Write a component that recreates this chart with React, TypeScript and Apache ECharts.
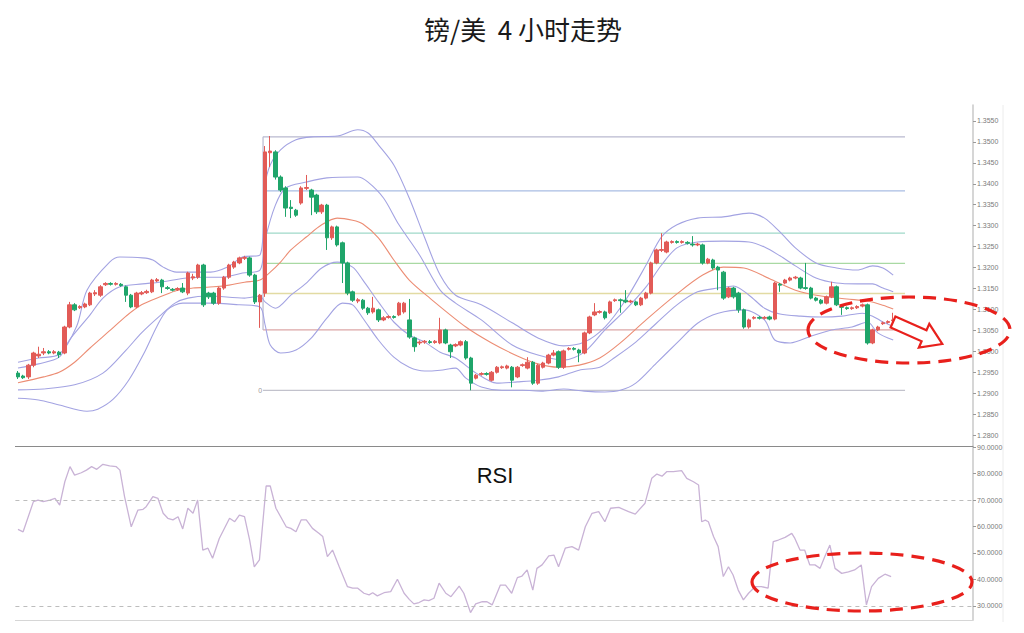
import React, { useEffect, useRef } from "react";
import * as echarts from "echarts";

// ---------- data ----------
const titleText = "镑/美  4 小时走势";
const rsiTitle = "RSI";

// candles: [open, close, low, high]
const candles: number[][] = [
  [1.2948, 1.2939, 1.2934, 1.2953], [1.2941, 1.2937, 1.2934, 1.2944], [1.2939, 1.2967, 1.2934, 1.2970], [1.2967, 1.2996, 1.2962, 1.2999],
  [1.2989, 1.2993, 1.2984, 1.3011], [1.2996, 1.2999, 1.2991, 1.3008], [1.2999, 1.2996, 1.2993, 1.3003], [1.2996, 1.2999, 1.2993, 1.3003],
  [1.2998, 1.2992, 1.2984, 1.3001], [1.2996, 1.3058, 1.2993, 1.3061], [1.3058, 1.3111, 1.3055, 1.3118], [1.3111, 1.3099, 1.3096, 1.3115],
  [1.3104, 1.3107, 1.3101, 1.3110], [1.3106, 1.3113, 1.3103, 1.3116], [1.3111, 1.3139, 1.3108, 1.3142], [1.3137, 1.3140, 1.3132, 1.3146],
  [1.3134, 1.3154, 1.3130, 1.3158], [1.3159, 1.3162, 1.3156, 1.3165], [1.3162, 1.3160, 1.3157, 1.3165], [1.3160, 1.3162, 1.3157, 1.3165],
  [1.3160, 1.3157, 1.3154, 1.3163], [1.3154, 1.3134, 1.3118, 1.3157], [1.3134, 1.3106, 1.3103, 1.3137], [1.3106, 1.3139, 1.3103, 1.3142],
  [1.3137, 1.3140, 1.3134, 1.3144], [1.3140, 1.3143, 1.3137, 1.3147], [1.3142, 1.3170, 1.3139, 1.3173], [1.3168, 1.3171, 1.3165, 1.3175],
  [1.3170, 1.3154, 1.3139, 1.3173], [1.3152, 1.3150, 1.3147, 1.3156], [1.3148, 1.3146, 1.3143, 1.3151], [1.3147, 1.3150, 1.3144, 1.3153],
  [1.3151, 1.3142, 1.3139, 1.3163], [1.3139, 1.3187, 1.3134, 1.3190], [1.3175, 1.3178, 1.3170, 1.3185], [1.3177, 1.3206, 1.3173, 1.3209],
  [1.3206, 1.3111, 1.3106, 1.3209], [1.3139, 1.3130, 1.3125, 1.3142], [1.3139, 1.3115, 1.3111, 1.3142], [1.3115, 1.3151, 1.3111, 1.3154],
  [1.3151, 1.3177, 1.3147, 1.3180], [1.3177, 1.3206, 1.3173, 1.3209], [1.3201, 1.3213, 1.3197, 1.3216], [1.3211, 1.3223, 1.3208, 1.3226],
  [1.3222, 1.3224, 1.3218, 1.3228], [1.3223, 1.3182, 1.3178, 1.3226], [1.3182, 1.3118, 1.3113, 1.3185], [1.3118, 1.3134, 1.3056, 1.3137],
  [1.3139, 1.3476, 1.3130, 1.3490], [1.3474, 1.3478, 1.3440, 1.3514], [1.3476, 1.3416, 1.3410, 1.3480], [1.3416, 1.3385, 1.3380, 1.3420],
  [1.3390, 1.3342, 1.3321, 1.3394], [1.3344, 1.3341, 1.3318, 1.3361], [1.3337, 1.3325, 1.3321, 1.3340], [1.3354, 1.3390, 1.3350, 1.3394],
  [1.3389, 1.3391, 1.3385, 1.3421], [1.3385, 1.3368, 1.3325, 1.3388], [1.3373, 1.3333, 1.3328, 1.3376], [1.3333, 1.3349, 1.3328, 1.3352],
  [1.3349, 1.3271, 1.3242, 1.3352], [1.3271, 1.3297, 1.3266, 1.3300], [1.3297, 1.3254, 1.3250, 1.3300], [1.3259, 1.3211, 1.3163, 1.3262],
  [1.3211, 1.3139, 1.3134, 1.3214], [1.3142, 1.3122, 1.3118, 1.3145], [1.3120, 1.3123, 1.3115, 1.3127], [1.3122, 1.3103, 1.3099, 1.3125],
  [1.3103, 1.3092, 1.3087, 1.3106], [1.3094, 1.3103, 1.3090, 1.3130], [1.3099, 1.3075, 1.3070, 1.3102], [1.3075, 1.3080, 1.3072, 1.3084],
  [1.3081, 1.3083, 1.3078, 1.3086], [1.3083, 1.3081, 1.3078, 1.3086], [1.3087, 1.3115, 1.3084, 1.3118], [1.3094, 1.3115, 1.3090, 1.3118],
  [1.3075, 1.3034, 1.3030, 1.3125], [1.3032, 1.3011, 1.2999, 1.3035], [1.3020, 1.3022, 1.3015, 1.3026], [1.3022, 1.3024, 1.3018, 1.3027],
  [1.3023, 1.3021, 1.3018, 1.3027], [1.3021, 1.3024, 1.3018, 1.3027], [1.3020, 1.3051, 1.3017, 1.3080], [1.3051, 1.3020, 1.3017, 1.3054],
  [1.3015, 1.2999, 1.2984, 1.3018], [1.3013, 1.3016, 1.3010, 1.3019], [1.3015, 1.3023, 1.3012, 1.3026], [1.3023, 1.2984, 1.2980, 1.3027],
  [1.2984, 1.2924, 1.2907, 1.2987], [1.2936, 1.2943, 1.2933, 1.2946], [1.2945, 1.2947, 1.2942, 1.2950], [1.2947, 1.2945, 1.2942, 1.2950],
  [1.2931, 1.2950, 1.2928, 1.2953], [1.2950, 1.2962, 1.2947, 1.2965], [1.2961, 1.2963, 1.2958, 1.2966], [1.2960, 1.2965, 1.2957, 1.2968],
  [1.2962, 1.2931, 1.2914, 1.2965], [1.2939, 1.2962, 1.2936, 1.2965], [1.2966, 1.2968, 1.2963, 1.2971], [1.2960, 1.2974, 1.2957, 1.2986],
  [1.2974, 1.2924, 1.2920, 1.2977], [1.2924, 1.2967, 1.2920, 1.2970], [1.2962, 1.2972, 1.2959, 1.2975], [1.2972, 1.2991, 1.2969, 1.2994],
  [1.2991, 1.2996, 1.2988, 1.3003], [1.2999, 1.2962, 1.2958, 1.3002], [1.2962, 1.3001, 1.2958, 1.3004], [1.3005, 1.3007, 1.3002, 1.3010],
  [1.3007, 1.3005, 1.3002, 1.3010], [1.3003, 1.2996, 1.2974, 1.3006], [1.2996, 1.3044, 1.2993, 1.3047], [1.3044, 1.3082, 1.3041, 1.3085],
  [1.3087, 1.3094, 1.3084, 1.3115], [1.3093, 1.3095, 1.3090, 1.3098], [1.3094, 1.3080, 1.3076, 1.3097], [1.3092, 1.3118, 1.3089, 1.3121],
  [1.3121, 1.3123, 1.3118, 1.3126], [1.3123, 1.3121, 1.3092, 1.3126], [1.3122, 1.3118, 1.3115, 1.3146], [1.3118, 1.3120, 1.3115, 1.3123],
  [1.3118, 1.3111, 1.3108, 1.3121], [1.3111, 1.3127, 1.3108, 1.3130], [1.3127, 1.3139, 1.3124, 1.3142], [1.3139, 1.3211, 1.3136, 1.3214],
  [1.3211, 1.3242, 1.3208, 1.3245], [1.3241, 1.3243, 1.3237, 1.3282], [1.3237, 1.3261, 1.3234, 1.3264], [1.3260, 1.3262, 1.3257, 1.3265],
  [1.3262, 1.3260, 1.3257, 1.3265], [1.3260, 1.3262, 1.3257, 1.3265], [1.3260, 1.3258, 1.3255, 1.3263], [1.3256, 1.3254, 1.3250, 1.3275],
  [1.3254, 1.3256, 1.3251, 1.3259], [1.3254, 1.3211, 1.3207, 1.3257], [1.3211, 1.3220, 1.3208, 1.3223], [1.3218, 1.3199, 1.3195, 1.3221],
  [1.3201, 1.3194, 1.3146, 1.3204], [1.3189, 1.3127, 1.3123, 1.3192], [1.3130, 1.3151, 1.3127, 1.3154], [1.3151, 1.3130, 1.3126, 1.3154],
  [1.3139, 1.3099, 1.3092, 1.3142], [1.3099, 1.3058, 1.3054, 1.3102], [1.3058, 1.3075, 1.3054, 1.3078], [1.3079, 1.3081, 1.3076, 1.3084],
  [1.3081, 1.3079, 1.3076, 1.3084], [1.3079, 1.3081, 1.3076, 1.3084], [1.3082, 1.3077, 1.3074, 1.3085], [1.3077, 1.3163, 1.3074, 1.3166],
  [1.3160, 1.3158, 1.3142, 1.3163], [1.3163, 1.3170, 1.3160, 1.3173], [1.3170, 1.3175, 1.3167, 1.3178], [1.3175, 1.3177, 1.3172, 1.3180],
  [1.3175, 1.3151, 1.3148, 1.3178], [1.3152, 1.3150, 1.3147, 1.3211], [1.3151, 1.3127, 1.3124, 1.3154], [1.3127, 1.3122, 1.3119, 1.3130],
  [1.3122, 1.3115, 1.3112, 1.3125], [1.3115, 1.3130, 1.3112, 1.3133], [1.3130, 1.3154, 1.3127, 1.3166], [1.3154, 1.3111, 1.3108, 1.3157],
  [1.3107, 1.3105, 1.3087, 1.3110], [1.3104, 1.3102, 1.3099, 1.3107], [1.3102, 1.3104, 1.3099, 1.3107], [1.3104, 1.3107, 1.3101, 1.3110],
  [1.3108, 1.3111, 1.3105, 1.3114], [1.3111, 1.3020, 1.3016, 1.3114], [1.3020, 1.3051, 1.3017, 1.3054], [1.3051, 1.3058, 1.3048, 1.3061],
  [1.3066, 1.3068, 1.3063, 1.3071], [1.3069, 1.3071, 1.3066, 1.3074], [1.3073, 1.3075, 1.3070, 1.3092],
];

// Bollinger bands, read as [candle index, price]
const bbUpperOuter: number[][] = [
  [0, 1.2974], [4, 1.2984], [8, 1.2993], [11.4, 1.3060], [13.4, 1.3146], [17.8, 1.3213], [19.8, 1.3225], [24.2, 1.3223],
  [26.2, 1.3218], [28.2, 1.3201], [30.8, 1.3189], [34.7, 1.3189], [37.4, 1.3189], [40.7, 1.3201], [43.6, 1.3225], [47, 1.3230],
  [48, 1.3397], [49, 1.3445], [51, 1.3481], [54, 1.3505], [57, 1.3512], [62, 1.3514], [66, 1.3529], [68, 1.3521], [70, 1.3493],
  [73, 1.3445], [76, 1.3366], [79, 1.3271], [82, 1.3182], [85, 1.3134], [90, 1.3111], [96, 1.3068], [101, 1.3032], [106, 1.3013],
  [110, 1.3022], [114, 1.3058], [118, 1.3122], [122, 1.3206], [125, 1.3273], [128, 1.3302], [132, 1.3318], [137, 1.3321],
  [142, 1.3330], [145, 1.3318], [148, 1.3285], [151, 1.3247], [155, 1.3211], [159, 1.3199], [163, 1.3194], [166, 1.3204],
  [168, 1.3199], [170, 1.3182],
];
const bbUpperInner: number[][] = [
  [0, 1.2960], [4, 1.2970], [8, 1.2986], [10, 1.3027], [14, 1.3087], [16.5, 1.3127], [19.8, 1.3154], [24.2, 1.3161],
  [27.5, 1.3165], [32.8, 1.3175], [35.9, 1.3177], [39.7, 1.3177], [43.6, 1.3187], [47, 1.3194], [48, 1.3266], [50, 1.3349],
  [52, 1.3390], [56, 1.3404], [60, 1.3414], [66, 1.3416], [68, 1.3404], [71, 1.3366], [74, 1.3302], [78, 1.3230], [82, 1.3146],
  [85, 1.3115], [90, 1.3075], [96, 1.3015], [101, 1.2991], [106, 1.2979], [110, 1.2998], [114, 1.3051], [118, 1.3099],
  [122, 1.3154], [125, 1.3206], [128, 1.3247], [132, 1.3261], [137, 1.3263], [142, 1.3261], [145, 1.3249], [148, 1.3228],
  [151, 1.3204], [155, 1.3175], [159, 1.3163], [163, 1.3161], [166, 1.3161], [168, 1.3151], [170, 1.3142],
];
const bbMiddle: number[][] = [
  [0, 1.2925], [5, 1.2939], [8, 1.2950], [11, 1.2974], [14, 1.3008], [18, 1.3051], [21, 1.3084], [24, 1.3111], [28, 1.3132],
  [31, 1.3146], [34, 1.3151], [38, 1.3154], [41, 1.3158], [44, 1.3165], [47, 1.3170], [49, 1.3189], [51, 1.3213], [53, 1.3242],
  [56, 1.3273], [59, 1.3302], [62, 1.3318], [65, 1.3313], [67, 1.3304], [70, 1.3271], [73, 1.3218], [76, 1.3170], [80, 1.3127],
  [87, 1.3058], [92, 1.3020], [97, 1.2989], [101, 1.2970], [105, 1.2962], [109, 1.2967], [113, 1.2984], [117, 1.3020],
  [122, 1.3075], [128, 1.3137], [133, 1.3182], [137, 1.3201], [141, 1.3199], [146, 1.3173], [151, 1.3146], [156, 1.3132],
  [161, 1.3125], [165, 1.3120], [168, 1.3110], [170, 1.3101],
];
const bbLowerInner: number[][] = [
  [0, 1.2908], [5, 1.2910], [11, 1.2920], [16.5, 1.2948], [21, 1.3003], [24, 1.3044], [27.5, 1.3084], [30.5, 1.3115],
  [33, 1.3127], [37, 1.3132], [44, 1.3127], [47, 1.3132], [48, 1.3118], [50, 1.3103], [53, 1.3134], [56, 1.3163], [59, 1.3199],
  [62, 1.3213], [65, 1.3201], [67, 1.3170], [70, 1.3118], [73, 1.3070], [76, 1.3039], [79, 1.3022], [82, 1.2998], [85, 1.2984],
  [89, 1.2948], [93, 1.2924], [97, 1.2927], [101, 1.2931], [105, 1.2939], [109, 1.2955], [113, 1.2962], [116, 1.2986],
  [120, 1.3022], [124, 1.3067], [128, 1.3111], [132, 1.3142], [136, 1.3151], [139, 1.3156], [142, 1.3134], [145, 1.3103],
  [148, 1.3089], [152, 1.3084], [156, 1.3082], [160, 1.3084], [164, 1.3091], [166, 1.3084], [168, 1.3070], [170, 1.3060],
];
const bbLowerOuter: number[][] = [
  [0, 1.2888], [4, 1.2884], [8, 1.2872], [13.4, 1.2857], [15.5, 1.2862], [18.5, 1.2886], [21.5, 1.2931], [24.5, 1.2996],
  [27, 1.3060], [29, 1.3099], [32, 1.3115], [37, 1.3115], [43, 1.3111], [47, 1.3106], [48, 1.3063], [49, 1.3015], [51, 1.2996],
  [54, 1.3003], [57, 1.3032], [60, 1.3079], [63, 1.3115], [65, 1.3111], [67, 1.3079], [70, 1.3027], [73, 1.2986], [76, 1.2962],
  [79, 1.2953], [82, 1.2955], [85, 1.2960], [87, 1.2936], [90, 1.2915], [94, 1.2907], [98, 1.2907], [102, 1.2905], [106, 1.2910],
  [110, 1.2905], [114, 1.2903], [117, 1.2907], [120, 1.2924], [124, 1.2972], [128, 1.3020], [132, 1.3067], [136, 1.3091],
  [141, 1.3099], [145, 1.3075], [147, 1.3027], [150, 1.3020], [154, 1.3036], [158, 1.3051], [162, 1.3058], [165, 1.3070],
  [167, 1.3044], [170, 1.3027],
];

// Fibonacci retracement levels (top to bottom) and their span in candle index
const fibLevels = [1.3512, 1.3383, 1.3282, 1.3210, 1.3138, 1.3051, 1.2907];
const fibColors = ["#b9b9cf", "#a9bde3", "#9fd9c9", "#a9d9a3", "#e2dba3", "#dca6a6", "#c2c2cc"];
const fibStart = 47.6;
const fibEnd = 172.3;

// RSI, read as [candle index, value]
const rsi: number[][] = [
  [0, 58.9], [1, 58.0], [3, 69.4], [3.9, 70.0], [4.9, 69.4], [6.2, 70.0], [7.2, 70.6], [8.1, 68.1], [9.1, 76.9], [10.1, 82.6],
  [11, 79.4], [12.3, 80.3], [13.3, 81.3], [14.3, 82.6], [15.3, 81.6], [16.5, 83.5], [17.8, 82.9], [19.1, 82.6], [19.8, 81.3],
  [20.7, 71.3], [22, 59.9], [23.3, 66.2], [24.3, 66.5], [24.9, 67.5], [26.2, 71.3], [27.2, 70.6], [28.2, 65.0], [29.1, 63.1],
  [30.1, 62.5], [31.1, 63.7], [32, 59.1], [33, 66.9], [34, 65.0], [34.9, 70.0], [35.9, 51.1], [36.9, 51.8], [37.8, 48.0],
  [39.1, 55.5], [41.1, 63.1], [42.1, 61.8], [43, 64.3], [44, 63.7], [45, 54.9], [45.9, 44.8], [46.9, 47.4], [48.2, 75.3],
  [49, 75.3], [50.1, 66.9], [52.1, 59.9], [53, 59.3], [54, 58.0], [55, 62.5], [56, 62.5], [57.2, 59.3], [58.5, 57.4],
  [59.2, 56.2], [60.1, 48.6], [61.1, 51.1], [62.4, 44.8], [64, 37.3], [65, 36.7], [66, 36.7], [67.2, 34.8], [68.2, 34.2],
  [68.9, 35.0], [69.8, 33.8], [71.1, 35.0], [72.4, 35.4], [73.7, 40.1], [75, 34.8], [76, 32.5], [76.9, 30.8], [77.9, 31.3],
  [78.9, 32.3], [79.8, 32.0], [80.8, 32.9], [81.8, 38.6], [83.1, 34.8], [84.1, 33.5], [85.7, 37.5], [86.6, 34.8], [87.9, 27.5],
  [88.9, 30.8], [90.2, 31.6], [91.1, 31.6], [92.1, 30.4], [93.7, 37.9], [94.7, 37.9], [95.9, 34.8], [97, 40.7], [97.9, 41.3],
  [98.9, 43.6], [100, 36.0], [100.8, 44.2], [101.8, 45.5], [103.1, 48.9], [104.1, 49.2], [105, 44.8], [106.3, 51.8],
  [107.6, 52.4], [108.9, 51.1], [110.2, 59.9], [111.5, 65.0], [112.8, 65.6], [114, 61.8], [115.1, 66.9], [116.7, 67.2],
  [118.6, 65.6], [119.9, 64.7], [121.8, 68.8], [123.1, 78.2], [124.1, 79.8], [125.1, 79.0], [126, 80.7], [127.3, 80.7],
  [128.9, 81.1], [129.9, 78.2], [131.2, 76.9], [132.2, 75.7], [132.8, 61.8], [133.5, 62.4], [134.1, 61.8], [135.1, 56.2],
  [136, 52.4], [137, 41.1], [138, 44.8], [138.9, 41.7], [139.9, 36.0], [140.9, 32.3], [141.9, 34.8], [143.2, 37.3],
  [144.4, 37.3], [145.7, 36.7], [146.7, 54.3], [147.7, 54.9], [149, 55.9], [150.3, 57.4], [150.9, 55.5], [151.9, 51.1],
  [152.8, 51.1], [153.8, 45.5], [154.8, 45.5], [155.8, 44.2], [156.7, 48.6], [157.7, 53.0], [158.7, 44.2], [160, 42.3],
  [161.3, 42.9], [162.5, 43.6], [163.8, 45.5], [164.8, 30.4], [165.8, 37.3], [167.1, 40.4], [168.4, 42.0], [169.6, 41.1],
];
const rsiLevels = [70, 30];

const priceTicks = [1.28, 1.285, 1.29, 1.295, 1.3, 1.305, 1.31, 1.315, 1.32, 1.325, 1.33, 1.335, 1.34, 1.345, 1.35, 1.355];
const rsiTicks = [30, 40, 50, 60, 70, 80, 90];
const slotCount = 186;

// ---------- styles ----------
const GRID_LEFT = 15.4;
const GRID_RIGHT = 51;
const UP = "#e25b57";
const DOWN = "#1fa56a";
const BAND = "#a3a3e2";
const MID = "#ec8d74";
const ANNOT = "#e8201c";

export default function App() {
  const ref = useRef<HTMLDivElement>(null);

  useEffect(() => {
    if (!ref.current) return;
    const chart = echarts.init(ref.current, null, { renderer: "svg" });
    const categories = Array.from({ length: slotCount }, (_, i) => String(i));

    const bandSeries = (data: number[][], color: string) => ({
      type: "line",
      xAxisIndex: 1,
      yAxisIndex: 0,
      data,
      smooth: 0.3,
      showSymbol: false,
      symbol: "none",
      silent: true,
      z: 2,
      lineStyle: { color, width: 1.1 },
    });

    const fibSeries = fibLevels.map((lv, k) => ({
      type: "line",
      xAxisIndex: 1,
      yAxisIndex: 0,
      data: [[fibStart, lv], [fibEnd, lv]],
      symbol: "none",
      silent: true,
      z: 1,
      lineStyle: { color: fibColors[k], width: 1.3 },
    }));

    const labelStyle = { fontSize: 7, color: "#7a7a7a", fontFamily: "Liberation Sans", margin: 4 };

    const option: any = {
      animation: false,
      backgroundColor: "#ffffff",
      grid: [
        { left: GRID_LEFT, right: GRID_RIGHT, top: 105, height: 341, containLabel: false, outerBoundsMode: "none" },
        { left: GRID_LEFT, right: GRID_RIGHT, top: 446, height: 174, containLabel: false, outerBoundsMode: "none" },
      ],
      xAxis: [
        {
          type: "category", gridIndex: 0, data: categories, boundaryGap: true,
          axisLine: { show: true, onZero: false, lineStyle: { color: "#8a8a8a", width: 1 } },
          axisTick: { show: false }, axisLabel: { show: false }, splitLine: { show: false },
        },
        { type: "value", gridIndex: 0, min: -0.5, max: slotCount - 0.5, show: false },
        {
          type: "value", gridIndex: 1, min: -0.5, max: slotCount - 0.5,
          axisLine: { show: true, onZero: false, lineStyle: { color: "#d6d6d6" } },
          axisTick: { show: false }, axisLabel: { show: false }, splitLine: { show: false },
        },
      ],
      yAxis: [
        {
          type: "value", gridIndex: 0, position: "right", min: 1.2774, max: 1.3588, scale: true,
          axisLine: { show: true, onZero: false, lineStyle: { color: "#c9c9c9", width: 1.5 } },
          axisTick: { show: true, length: 3, lineStyle: { color: "#9a9a9a" }, customValues: priceTicks },
          axisLabel: { ...labelStyle, customValues: priceTicks, formatter: (v: number) => v.toFixed(4) },
          splitLine: { show: false },
        },
        {
          type: "value", gridIndex: 1, position: "right", min: 24.7, max: 90.4,
          axisLine: { show: true, onZero: false, lineStyle: { color: "#c9c9c9", width: 1.5 } },
          axisTick: { show: true, length: 3, lineStyle: { color: "#9a9a9a" }, customValues: rsiTicks },
          axisLabel: { ...labelStyle, customValues: rsiTicks, formatter: (v: number) => v.toFixed(4) },
          splitLine: { show: false },
        },
      ],
      series: [
        ...fibSeries,
        {
          type: "line", xAxisIndex: 1, yAxisIndex: 0, symbol: "none", silent: true, z: 1,
          data: [[fibStart, fibLevels[0]], [fibStart, fibLevels[5]]],
          lineStyle: { color: fibColors[0], width: 1.2 },
        },
        bandSeries(bbUpperOuter, BAND),
        bandSeries(bbUpperInner, BAND),
        bandSeries(bbMiddle, MID),
        bandSeries(bbLowerInner, BAND),
        bandSeries(bbLowerOuter, BAND),
        {
          type: "candlestick", xAxisIndex: 0, yAxisIndex: 0, data: candles, barWidth: 4, z: 3,
          itemStyle: { color: UP, color0: DOWN, borderColor: UP, borderColor0: DOWN, borderWidth: 1 },
        },
        {
          type: "line", xAxisIndex: 2, yAxisIndex: 1, data: rsi, symbol: "none", silent: true,
          lineStyle: { color: "#c9b3d6", width: 1.3 },
          markLine: {
            silent: true, symbol: "none", label: { show: false },
            lineStyle: { color: "#bdbdbd", type: [4, 4], width: 1 },
            data: rsiLevels.map((v) => ({ yAxis: v })),
          },
        },
      ],
    };
    chart.setOption(option);

    const zeroPt = chart.convertToPixel({ xAxisIndex: 1, yAxisIndex: 0 } as any, [fibStart, fibLevels[fibLevels.length - 1]]) as number[];

    chart.setOption({
      graphic: [
        {
          type: "text", x: 523, y: 28,
          style: { text: titleText, textAlign: "center", textVerticalAlign: "middle", fontSize: 26, fill: "#1a1a1a", fontFamily: "Noto Sans CJK SC" },
        },
        {
          type: "text", x: 495, y: 475,
          style: { text: rsiTitle, textAlign: "center", textVerticalAlign: "middle", fontSize: 22, fill: "#111", fontFamily: "Liberation Sans" },
        },
        {
          type: "text", x: zeroPt[0] - 1, y: zeroPt[1],
          style: { text: "0", textAlign: "right", textVerticalAlign: "middle", fontSize: 7, fill: "#9a9a9a", fontFamily: "Liberation Sans" },
        },
        { type: "line", shape: { x1: 1003, y1: 105, x2: 1003, y2: 622 }, style: { stroke: "#ececec", lineWidth: 1 } },
        {
          type: "ellipse", shape: { cx: 909, cy: 330, rx: 101, ry: 33 },
          style: { fill: "none", stroke: ANNOT, lineWidth: 3.2, lineDash: [13, 8] }, z: 10,
        },
        {
          type: "ellipse", shape: { cx: 862, cy: 582, rx: 110, ry: 29 },
          style: { fill: "none", stroke: ANNOT, lineWidth: 3.2, lineDash: [13, 8] }, z: 10,
        },
        {
          type: "polygon",
          shape: { points: [[895.4, 316.5], [926.5, 330.3], [929.3, 323.9], [942.3, 344.0], [918.8, 347.7], [921.6, 341.3], [890.6, 327.5]] },
          style: { fill: "#ffffff", stroke: ANNOT, lineWidth: 2.2 }, z: 11,
        },
      ],
    });

    return () => chart.dispose();
  }, []);

  return <div ref={ref} style={{ position: "fixed", left: 0, top: 0, width: 1024, height: 633, background: "#fff" }} />;
}
